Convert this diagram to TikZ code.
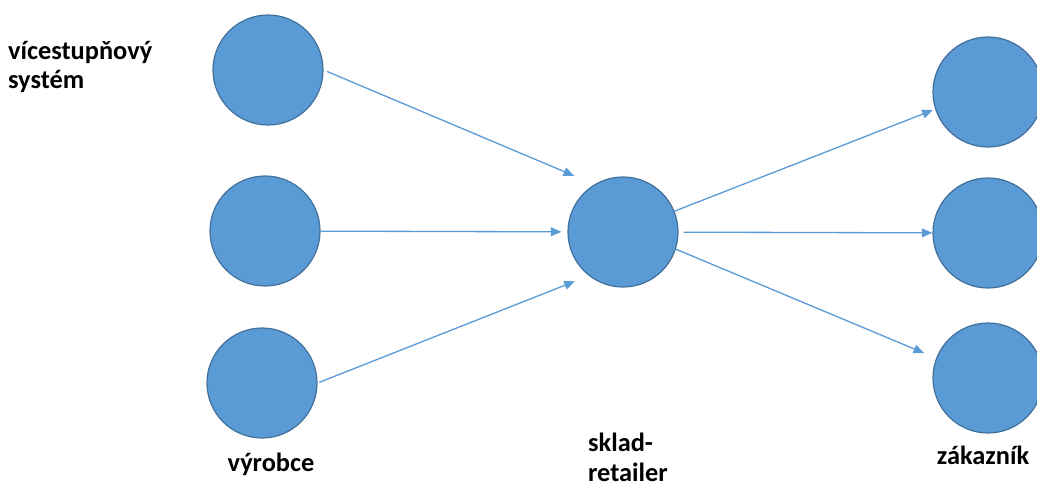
\documentclass[tikz,border=0pt]{standalone}
\usepackage{fontspec}
\setmainfont{Carlito}
\usetikzlibrary{arrows.meta}
\definecolor{nodeblue}{HTML}{5B9BD5}
\definecolor{nodeedge}{HTML}{41719C}
\definecolor{flowblue}{HTML}{5B9BD5}
\begin{document}
\begin{tikzpicture}[x=0.02cm, y=-0.02cm,
        stage/.style={circle, fill=nodeblue, draw=nodeedge, line width=0.7pt, inner sep=0pt, minimum size=2.2cm},
        flow/.style={color=flowblue, line width=0.75pt, -{Triangle[length=6pt,width=5pt]}},
        every node/.style={font=\bfseries\fontsize{15}{17}\selectfont, inner sep=1pt}]
            \useasboundingbox (0,0) rectangle (1037,490);
            % vyrobci
            \node [stage] (V1) at (268,70) {};
            \node [stage] (V2) at (265,231) {};
            \node [stage] (V3) at (262,383) {};
            % sklad
            \node [stage] (S) at (623,232) {};
            % zakaznici
            \node [stage] (Z1) at (988,92) {};
            \node [stage] (Z2) at (988,233) {};
            \node [stage] (Z3) at (988,378) {};
            \node [align=left, anchor=west] (sys) at (6,67) {vícestupňový\\systém};
            \node (vyr) at (271,464) {výrobce};
            \node [align=left, anchor=west] (skl) at (586,457) {sklad-\\retailer};
            \node (zak) at (983,455) {zákazník};
            \path (V1.east) edge[flow, shorten <=2pt, shorten >=0.44cm] (S.121);
            \path (V2) edge[flow, shorten >=0.12cm] (S);
            \path (V3.east) edge[flow, shorten <=1pt, shorten >=0.3cm] (S.232);
            \path (S.22) edge[flow, shorten >=0.05cm] (Z1.198);
            \path (S) edge[flow, shorten <=0.1cm] (Z2);
            \path (S.-18) edge[flow, shorten >=0.26cm] (Z3.159);
        \end{tikzpicture}
\end{document}
